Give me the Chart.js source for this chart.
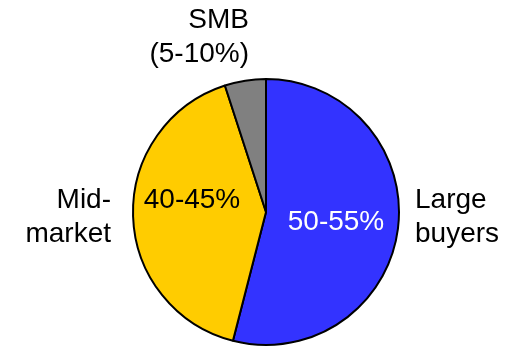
<!DOCTYPE html>
<html>
<head>
<meta charset="utf-8">
<script src="https://cdn.jsdelivr.net/npm/chart.js@4/dist/chart.umd.min.js"></script>
<style>
html,body{margin:0;padding:0;background:#fff;}
#wrap{width:516px;height:347px;}
</style>
</head>
<body>
<div id="wrap"><canvas id="c" width="516" height="347"></canvas></div>
<script>
const categories = ["Large buyers", "Mid-market", "SMB"];
const shares = [54, 41, 5];
const insideLabels = ["50-55%", "40-45%", ""];
const outerLabels = [["Large", "buyers"], ["Mid-", "market"], ["SMB", "(5-10%)"]];
const colors = ["#3333FF", "#FFCC00", "#808080"];

const labelPlugin = {
  id: 'labels',
  afterDatasetsDraw(chart) {
    const ctx = chart.ctx;
    const arc = chart.getDatasetMeta(0).data[0];
    const cx = arc.x, cy = arc.y;
    ctx.save();
    ctx.textBaseline = 'alphabetic';
    // inside labels
    ctx.font = '28px "Liberation Sans", Arial, sans-serif';
    ctx.textAlign = 'center';
    ctx.fillStyle = '#FFFFFF';
    ctx.fillText(insideLabels[0], cx + 70, cy + 17.5);
    ctx.fillStyle = '#000000';
    ctx.fillText(insideLabels[1], cx - 74, cy - 4);
    // outer labels
    ctx.font = '28px "Liberation Sans", Arial, sans-serif';
    ctx.fillStyle = '#000000';
    ctx.textAlign = 'left';
    ctx.fillText(outerLabels[0][0], cx + 149, cy - 4);
    ctx.fillText(outerLabels[0][1], cx + 149, cy + 30);
    ctx.textAlign = 'right';
    ctx.fillText(outerLabels[1][0], cx - 155, cy - 4);
    ctx.fillText(outerLabels[1][1], cx - 155, cy + 30);
    ctx.fillText(outerLabels[2][0], cx - 17, cy - 184);
    ctx.fillText(outerLabels[2][1], cx - 17, cy - 150);
    ctx.restore();
  }
};

new Chart(document.getElementById('c'), {
  type: 'pie',
  data: {
    labels: categories,
    datasets: [{
      data: shares,
      backgroundColor: colors,
      borderColor: '#000000',
      borderWidth: 2,
      hoverOffset: 0,
      radius: 133
    }]
  },
  options: {
    responsive: false,
    animation: false,
    layout: { padding: { left: 16, right: 0, top: 77, bottom: 0 } },
    plugins: { legend: { display: false }, tooltip: { enabled: false } },
    events: []
  },
  plugins: [labelPlugin]
});
</script>
</body>
</html>
